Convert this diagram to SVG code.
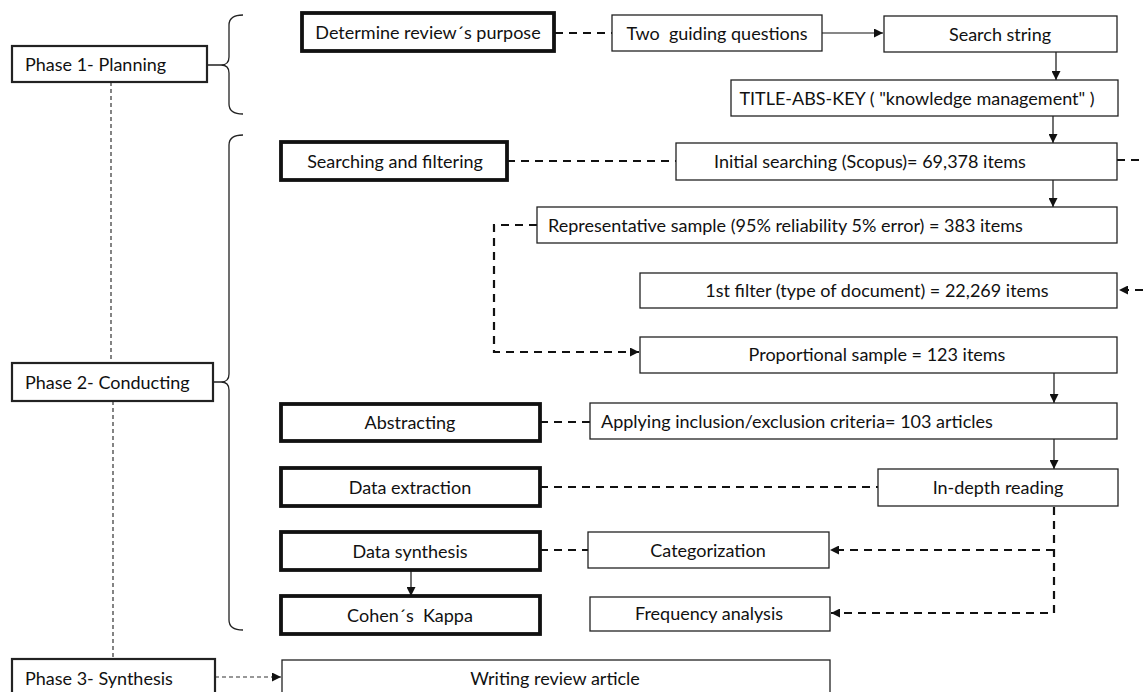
<svg xmlns="http://www.w3.org/2000/svg" width="1143" height="692" viewBox="0 0 1143 692">
<defs>
<style>
text{font-family:Lato,"Liberation Sans",sans-serif;font-size:18px;fill:#111;dominant-baseline:central}
.c{text-anchor:middle}
.box{fill:#fff;stroke:#222;stroke-width:1.3}
.thick{fill:#fff;stroke:#111;stroke-width:3.8}
.dash{fill:none;stroke:#111;stroke-width:2.2;stroke-dasharray:8,6}
.dot{fill:none;stroke:#333;stroke-width:1.2;stroke-dasharray:4,3}
.solid{fill:none;stroke:#111;stroke-width:1.2}
.brace{fill:none;stroke:#222;stroke-width:1.3}
</style>
<marker id="ah" viewBox="0 0 10 10" refX="10" refY="5" markerWidth="9" markerHeight="9" markerUnits="userSpaceOnUse" orient="auto"><path d="M0,0 L10,5 L0,10 z" fill="#111"/></marker>
</defs>
<rect width="1143" height="692" fill="#fff"/>

<g id="connectors">
<path class="dot" d="M111,82 V363"/>
<path class="dot" d="M113,401 V659"/>
<path class="dot" d="M215,677 H281" marker-end="url(#ah)"/>
<path class="brace" d="M207,65 H221 Q229,65 229,57 V25 Q229,15 243,15 M221,65 Q229,65 229,73 V104 Q229,114 243,114"/>
<path class="brace" d="M213,382 H221 Q229,382 229,374 V145 Q229,135 243,135 M221,382 Q229,382 229,390 V620 Q229,630 243,630"/>
<path class="dash" d="M555,33 H612"/>
<path class="solid" d="M822,33 H883" marker-end="url(#ah)"/>
<path class="solid" d="M1056,52 V80" marker-end="url(#ah)"/>
<path class="solid" d="M1053,116 V143" marker-end="url(#ah)"/>
<path class="dash" d="M507,161 H676"/>
<path class="dash" d="M1117,160 H1170 V290 H1119" marker-end="url(#ah)"/>
<path class="solid" d="M1053,180 V207" marker-end="url(#ah)"/>
<path class="dash" d="M537,225 H494 V352 H639" marker-end="url(#ah)"/>
<path class="solid" d="M1054,373 V403" marker-end="url(#ah)"/>
<path class="dash" d="M540,422 H590"/>
<path class="solid" d="M1054,439 V469" marker-end="url(#ah)"/>
<path class="dash" d="M540,487 H878"/>
<path class="dash" d="M540,550 H588"/>
<path class="dash" d="M1054,507 V613 H831" marker-end="url(#ah)"/>
<path class="dash" d="M1054,550 H830" marker-end="url(#ah)"/>
<path class="solid" d="M411,570 V596" marker-end="url(#ah)"/>
</g>

<g id="phase1"><rect class="box" x="12" y="46" width="195" height="36" style="stroke-width:2.2"/><text x="25" y="64">Phase 1- Planning</text></g>
<g id="phase2"><rect class="box" x="12" y="363" width="201" height="38" style="stroke-width:2.2"/><text x="25" y="382">Phase 2- Conducting</text></g>
<g id="phase3"><rect class="box" x="12" y="659" width="203" height="45" style="stroke-width:2.2"/><text x="25" y="678">Phase 3- Synthesis</text></g>

<g id="purpose"><rect class="thick" x="302" y="13" width="252" height="38"/><text class="c" x="428" y="32" xml:space="preserve">Determine review´s purpose</text></g>
<g id="questions"><rect class="box" x="612" y="15" width="210" height="36"/><text class="c" x="717" y="33" xml:space="preserve">Two  guiding questions</text></g>
<g id="searchstring"><rect class="box" x="884" y="16" width="233" height="36"/><text class="c" x="1000" y="34">Search string</text></g>
<g id="titleabskey"><rect class="box" x="731" y="80" width="387" height="36"/><text class="c" x="917" y="98">TITLE-ABS-KEY ( "knowledge management" )</text></g>
<g id="searching"><rect class="thick" x="281" y="142" width="226" height="38"/><text class="c" x="395" y="161">Searching and filtering</text></g>
<g id="initial"><rect class="box" x="676" y="143" width="441" height="37"/><text class="c" x="870" y="161">Initial searching (Scopus)= 69,378 items</text></g>
<g id="representative"><rect class="box" x="537" y="207" width="580" height="36"/><text x="548" y="225">Representative sample (95% reliability 5% error) = 383 items</text></g>
<g id="filter1"><rect class="box" x="640" y="273" width="477" height="35"/><text class="c" x="877" y="290">1st filter (type of document) = 22,269 items</text></g>
<g id="proportional"><rect class="box" x="640" y="337" width="477" height="36"/><text class="c" x="877" y="354">Proportional sample = 123 items</text></g>
<g id="abstracting"><rect class="thick" x="281" y="404" width="259" height="37"/><text class="c" x="410" y="422">Abstracting</text></g>
<g id="applying"><rect class="box" x="590" y="403" width="527" height="36"/><text x="601" y="421">Applying inclusion/exclusion criteria= 103 articles</text></g>
<g id="extraction"><rect class="thick" x="281" y="468" width="259" height="38"/><text class="c" x="410" y="487">Data extraction</text></g>
<g id="indepth"><rect class="box" x="878" y="469" width="240" height="37"/><text class="c" x="998" y="487">In-depth reading</text></g>
<g id="synthesis"><rect class="thick" x="281" y="532" width="259" height="38"/><text class="c" x="410" y="551">Data synthesis</text></g>
<g id="categorization"><rect class="box" x="588" y="532" width="241" height="36"/><text class="c" x="708" y="550">Categorization</text></g>
<g id="kappa"><rect class="thick" x="281" y="596" width="259" height="38"/><text class="c" x="410" y="615" xml:space="preserve">Cohen´s  Kappa</text></g>
<g id="frequency"><rect class="box" x="590" y="597" width="240" height="34"/><text class="c" x="709" y="613">Frequency analysis</text></g>
<g id="writing"><rect class="box" x="282" y="660" width="548" height="45"/><text class="c" x="555" y="678">Writing review article</text></g>
</svg>
